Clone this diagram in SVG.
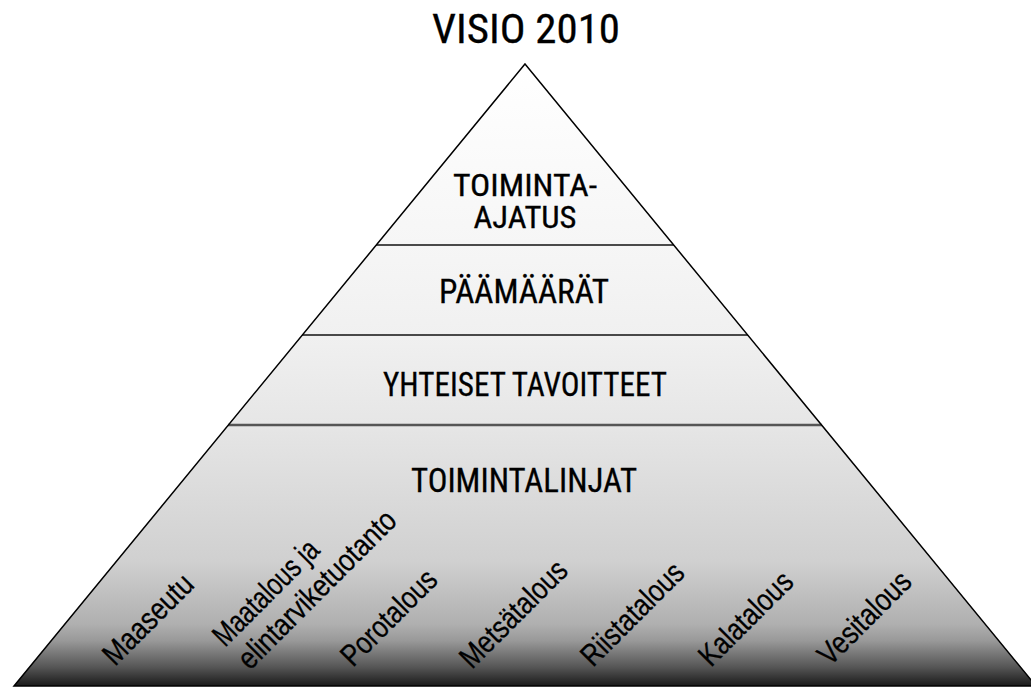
<svg xmlns="http://www.w3.org/2000/svg" width="1031" height="689" viewBox="0 0 1031 689">
<defs>
<linearGradient id="g" gradientUnits="userSpaceOnUse" x1="0" y1="64" x2="0" y2="686">
<stop offset="0" stop-color="#ffffff"/>
<stop offset="0.29" stop-color="#f6f6f6"/>
<stop offset="0.44" stop-color="#f0f0f0"/>
<stop offset="0.58" stop-color="#e6e6e6"/>
<stop offset="0.8" stop-color="#d0d0d0"/>
<stop offset="0.9" stop-color="#b0b0b0"/>
<stop offset="0.927" stop-color="#999999"/>
<stop offset="0.97" stop-color="#555555"/>
<stop offset="1" stop-color="#1a1a1a"/>
</linearGradient>
<style>
.layer{fill:url(#g);stroke:none}
.t{font-family:'Liberation Sans Narrow','Roboto Condensed','Liberation Sans',sans-serif;font-size:34px;fill:#000;stroke:#000;stroke-width:0.3;text-anchor:middle}
.r{font-family:'Liberation Sans Narrow','Liberation Sans',Arial,sans-serif;font-size:31px;fill:#000;stroke:#000;stroke-width:0.3}
.div{stroke:#111;stroke-width:1.5}
</style>
</defs>
<rect width="1031" height="689" fill="#fff"/>
<text x="526" y="43" class="t" style="font-size:41px" textLength="188" lengthAdjust="spacingAndGlyphs">VISIO 2010</text>
<g id="toiminta-ajatus">
<polygon class="layer" points="525,64 376.1,245 673.9,245"/>
<text x="525" y="196" class="t" style="font-size:31px" textLength="144" lengthAdjust="spacingAndGlyphs">TOIMINTA-</text>
<text x="525" y="228" class="t" style="font-size:31px" textLength="103" lengthAdjust="spacingAndGlyphs">AJATUS</text>
</g>
<g id="paamaarat">
<polygon class="layer" points="376.1,245 673.9,245 748,335 302,335"/>
<text x="524" y="303" class="t" textLength="170" lengthAdjust="spacingAndGlyphs">PÄÄMÄÄRÄT</text>
</g>
<g id="yhteiset-tavoitteet">
<polygon class="layer" points="302,335 748,335 822,425 228,425"/>
<text x="525" y="396" class="t" textLength="284" lengthAdjust="spacingAndGlyphs">YHTEISET TAVOITTEET</text>
</g>
<g id="toimintalinjat">
<polygon class="layer" points="228,425 822,425 1036,686 14,686"/>
<text x="524" y="492" class="t" textLength="226" lengthAdjust="spacingAndGlyphs">TOIMINTALINJAT</text>
<text class="r" x="115" y="667" transform="rotate(-45 115 667)" textLength="114" lengthAdjust="spacingAndGlyphs">Maaseutu</text>
<text class="r" x="225" y="648" transform="rotate(-45 225 648)" textLength="136" lengthAdjust="spacingAndGlyphs">Maatalous ja</text>
<text class="r" x="250" y="671" transform="rotate(-45 250 671)" textLength="210" lengthAdjust="spacingAndGlyphs">elintarviketuotanto</text>
<text class="r" x="353" y="668" transform="rotate(-45 353 668)" textLength="122" lengthAdjust="spacingAndGlyphs">Porotalous</text>
<text class="r" x="472" y="670" transform="rotate(-45 472 670)" textLength="138" lengthAdjust="spacingAndGlyphs">Metsätalous</text>
<text class="r" x="593" y="668" transform="rotate(-45 593 668)" textLength="132" lengthAdjust="spacingAndGlyphs">Riistatalous</text>
<text class="r" x="711" y="668" transform="rotate(-45 711 668)" textLength="119" lengthAdjust="spacingAndGlyphs">Kalatalous</text>
<text class="r" x="830" y="667" transform="rotate(-45 830 667)" textLength="118" lengthAdjust="spacingAndGlyphs">Vesitalous</text>
</g>
<g id="connectors">
<line class="div" x1="376.1" y1="245" x2="673.9" y2="245"/>
<line class="div" x1="302" y1="335" x2="748" y2="335"/>
<line x1="228" y1="425" x2="822" y2="425" stroke="#555" stroke-width="2.5"/>
<polygon points="525,64 1036,686 14,686" fill="none" stroke="#000" stroke-width="1.5" stroke-linejoin="miter"/>
</g>
</svg>
